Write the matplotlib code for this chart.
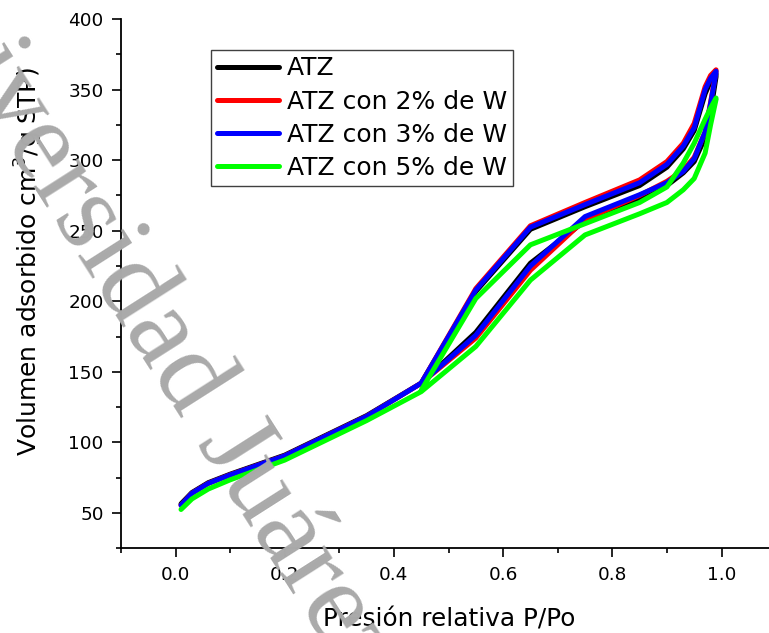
import matplotlib
matplotlib.use("Agg")
import matplotlib.pyplot as plt
from matplotlib.ticker import MultipleLocator, FormatStrFormatter

plt.rcParams['font.family'] = ['DejaVu Sans']
plt.rcParams['mathtext.fontset'] = 'dejavusans'

# adsorption / desorption branches, P/Po vs volume (cm3/g STP)
p_ads = [0.01, 0.03, 0.06, 0.1, 0.2, 0.35, 0.45, 0.55, 0.65, 0.75, 0.85, 0.9, 0.93, 0.95, 0.97, 0.98, 0.99]
p_des = [0.99, 0.98, 0.97, 0.95, 0.93, 0.9, 0.85, 0.75, 0.65, 0.55, 0.45]

atz_ads = [56.5, 64.5, 71.5, 77.5, 91, 119, 142, 178, 227, 257, 272, 282, 291, 299, 316, 334, 359]
atz_des = [361, 356, 347, 321, 308, 295, 282, 267, 251, 207, 142]

w2_ads = [55.5, 64, 71, 77, 90.5, 118.5, 142, 174, 222, 258, 275, 285, 293, 302, 320, 341, 363]
w2_des = [364, 360, 352, 326, 312, 299, 286, 270, 253.5, 209, 142]

w3_ads = [55.5, 64, 71, 77, 90.5, 118.5, 142, 176, 225, 260, 275.5, 284, 292, 301, 320, 340, 362]
w3_des = [363, 358, 350, 323, 310, 297, 284, 268.5, 252.5, 208, 142]

w5_ads = [52.5, 60, 67, 73.5, 87.5, 115.5, 136, 168, 215, 247, 262, 270, 279, 287, 305, 325, 343]
w5_des = [344, 337, 329, 312, 298, 281, 270, 255, 240, 202, 137]

labels = ['ATZ', 'ATZ con 2% de W', 'ATZ con 3% de W', 'ATZ con 5% de W']
colors = ['#000000', '#ff0000', '#0000ff', '#00ff00']
series = [(atz_ads, atz_des), (w2_ads, w2_des), (w3_ads, w3_des), (w5_ads, w5_des)]

fig = plt.figure(figsize=(7.69, 6.33), dpi=100)
ax = fig.add_axes([0.1573, 0.1338, 0.8427, 0.8362])

for (ads, des), c, lab in zip(series, colors, labels):
    ax.plot(p_ads + p_des, ads + des, color=c, lw=3.6, label=lab,
            solid_joinstyle='round', solid_capstyle='round')

ax.set_xlim(-0.1, 1.087)
ax.set_ylim(25, 400)
ax.xaxis.set_major_locator(MultipleLocator(0.2))
ax.xaxis.set_minor_locator(MultipleLocator(0.1))
ax.xaxis.set_major_formatter(FormatStrFormatter('%.1f'))
ax.yaxis.set_minor_locator(MultipleLocator(25))
ax.set_yticks(range(50, 401, 50))

for s in ['top', 'right']:
    ax.spines[s].set_visible(False)
for s in ['left', 'bottom']:
    ax.spines[s].set_linewidth(1.3)
ax.tick_params(which='major', direction='out', length=6.5, width=1.2, labelsize=13.3)
ax.tick_params(axis='x', which='major', pad=6.5)
ax.tick_params(axis='y', which='major', pad=6)
ax.tick_params(which='minor', direction='out', length=3.5, width=1.2)

ax.set_xlabel('Presión relativa P/Po', fontsize=17.8)
ax.xaxis.set_label_coords(0.506, -0.1125)
ax.set_ylabel(r'Volumen adsorbido cm$^{3}$/g STP)', fontsize=18)
ax.yaxis.set_label_coords(-0.117, 0.542)

leg = ax.legend(loc='upper left', bbox_to_anchor=(0.139, 0.941), borderaxespad=0,
                fontsize=18, handlelength=2.45, handletextpad=0.32, labelspacing=0.37,
                borderpad=0.25, fancybox=False, framealpha=1)
leg.get_frame().set_edgecolor('#404040')
leg.get_frame().set_linewidth(1.0)
for line in leg.get_lines():
    line.set_linewidth(3.6)

# watermark
fig.text(-0.123, 1.104, 'Universidad Juárez Autónoma de Tabasco', family='Liberation Serif',
         fontsize=82, color='#aaaaaa', rotation=-57.5, rotation_mode='anchor',
         ha='left', va='center', zorder=10)

fig.savefig('out.png', dpi=100)
